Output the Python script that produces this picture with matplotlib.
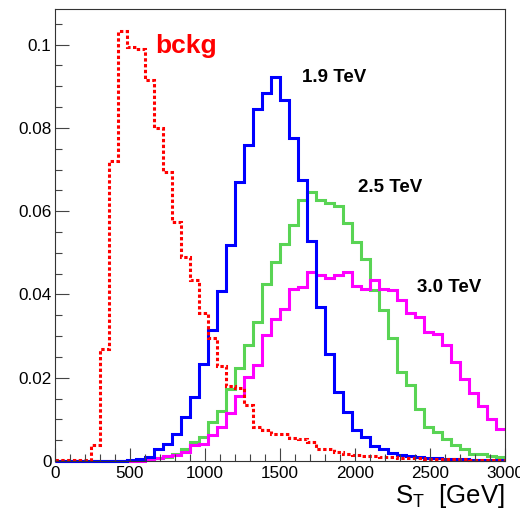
import numpy as np
import matplotlib
matplotlib.use("Agg")
import matplotlib.pyplot as plt
from matplotlib.ticker import MultipleLocator, FixedLocator, FixedFormatter

plt.rcParams['font.family'] = ['Liberation Sans', 'DejaVu Sans']
plt.rcParams['mathtext.fontset'] = 'custom'
plt.rcParams['mathtext.rm'] = 'Liberation Sans'

# ---- data: 50 bins of 60 GeV from 0 to 3000 ----
x_min, x_max, n_bins = 0, 3000, 50

bckg = [0.0002, 0.0002, 0.0002, 0.0003, 0.0038, 0.0270, 0.0720, 0.1034, 0.0995, 0.0990,
        0.0914, 0.0800, 0.0694, 0.0574, 0.0490, 0.0434, 0.0355, 0.0295, 0.0229, 0.0180,
        0.0176, 0.0134, 0.0082, 0.0074, 0.0066, 0.0064, 0.0056, 0.0054, 0.0046, 0.0030,
        0.0028, 0.0022, 0.0018, 0.0014, 0.0013, 0.0012, 0.0010, 0.0009, 0.0008, 0.0007,
        0.0007, 0.0006, 0.0005, 0.0005, 0.0004, 0.0004, 0.0003, 0.0003, 0.0002, 0.0002]

sig_19 = [0, 0, 0, 0, 0, 0, 0, 0, 0.0002, 0.0004,
          0.0009, 0.0028, 0.0041, 0.0065, 0.0106, 0.0154, 0.0234, 0.0314, 0.0408, 0.0520,
          0.0671, 0.0760, 0.0846, 0.0884, 0.0922, 0.0868, 0.0776, 0.0675, 0.0528, 0.0370,
          0.0256, 0.0165, 0.0117, 0.0074, 0.0057, 0.0036, 0.0029, 0.0020, 0.0015, 0.0012,
          0.0010, 0.0008, 0.0007, 0.0006, 0.0005, 0.0004, 0.0003, 0.0003, 0.0002, 0.0002]

sig_25 = [0, 0, 0, 0, 0, 0, 0, 0, 0, 0.0002,
          0.0004, 0.0007, 0.0010, 0.0018, 0.0028, 0.0046, 0.0058, 0.0093, 0.0120, 0.0174,
          0.0224, 0.0278, 0.0334, 0.0426, 0.0478, 0.0522, 0.0568, 0.0626, 0.0647, 0.0626,
          0.0620, 0.0612, 0.0572, 0.0526, 0.0486, 0.0410, 0.0362, 0.0296, 0.0214, 0.0182,
          0.0126, 0.0082, 0.0070, 0.0054, 0.0038, 0.0030, 0.0018, 0.0017, 0.0012, 0.0010]

sig_30 = [0, 0, 0, 0, 0, 0, 0, 0, 0, 0,
          0.0004, 0.0008, 0.0011, 0.0014, 0.0022, 0.0038, 0.0042, 0.0062, 0.0082, 0.0115,
          0.0156, 0.0202, 0.0230, 0.0302, 0.0342, 0.0366, 0.0414, 0.0418, 0.0453, 0.0446,
          0.0439, 0.0447, 0.0455, 0.0420, 0.0412, 0.0434, 0.0412, 0.0410, 0.0386, 0.0356,
          0.0346, 0.0310, 0.0306, 0.0278, 0.0238, 0.0197, 0.0163, 0.0131, 0.0102, 0.0078]

labels = ["bckg", "1.9 TeV", "2.5 TeV", "3.0 TeV"]
y_ticks = [0, 0.02, 0.04, 0.06, 0.08, 0.1]
y_tick_labels = ["0", "0.02", "0.04", "0.06", "0.08", "0.1"]
x_ticks = [0, 500, 1000, 1500, 2000, 2500, 3000]
x_tick_labels = ["0", "500", "1000", "1500", "2000", "2500", "3000"]

edges = np.linspace(x_min, x_max, n_bins + 1)

W, H = 520, 517
fig = plt.figure(figsize=(W / 100, H / 100), dpi=100)
ax = fig.add_axes([55 / W, 56 / H, 450 / W, 452 / H])

lw = 2.2
ax.stairs(sig_25, edges, baseline=None, color="#59d454", lw=lw, clip_on=False)
ax.stairs(sig_30, edges, baseline=None, color="#ff00ff", lw=lw, clip_on=False)
ax.stairs(sig_19, edges, baseline=None, color="#0000ff", lw=lw, clip_on=False)
ax.stairs(bckg, edges, baseline=None, color="#ff0000", lw=lw, clip_on=False,
          linestyle=(0, (1.1, 0.8)))

ax.set_xlim(x_min, x_max)
ax.set_ylim(0, max(bckg) * 1.05)

ax.xaxis.set_major_locator(FixedLocator(x_ticks))
ax.xaxis.set_major_formatter(FixedFormatter(x_tick_labels))
ax.xaxis.set_minor_locator(MultipleLocator(100))
ax.yaxis.set_major_locator(FixedLocator(y_ticks))
ax.yaxis.set_major_formatter(FixedFormatter(y_tick_labels))
ax.yaxis.set_minor_locator(MultipleLocator(0.005))

ax.tick_params(axis='both', which='both', direction='in', width=0.8, color='#444444',
               top=False, right=False, labelsize=12.3)
ax.tick_params(axis='x', which='major', length=9.4, pad=3.5)
ax.tick_params(axis='x', which='minor', length=5)
ax.tick_params(axis='y', which='major', length=10, pad=2.5)
ax.tick_params(axis='y', which='minor', length=5)
for s in ax.spines.values():
    s.set_linewidth(0.8)
    s.set_color('#333333')

def ftext(px, py, s, **kw):
    fig.text(px / W, 1 - py / H, s, va='baseline', **kw)

ftext(155, 52.7, labels[0], color='#ff0000', fontsize=19, fontweight='bold')
ftext(302, 81.7, labels[1], color='black', fontsize=13.5, fontweight='bold')
ftext(358, 191.7, labels[2], color='black', fontsize=13.5, fontweight='bold')
ftext(417, 291.7, labels[3], color='black', fontsize=13.5, fontweight='bold')
ftext(505, 503, r"S$_\mathregular{T}$  [GeV]", color='black', fontsize=18.5, ha='right')

fig.savefig("out.png", dpi=100)
